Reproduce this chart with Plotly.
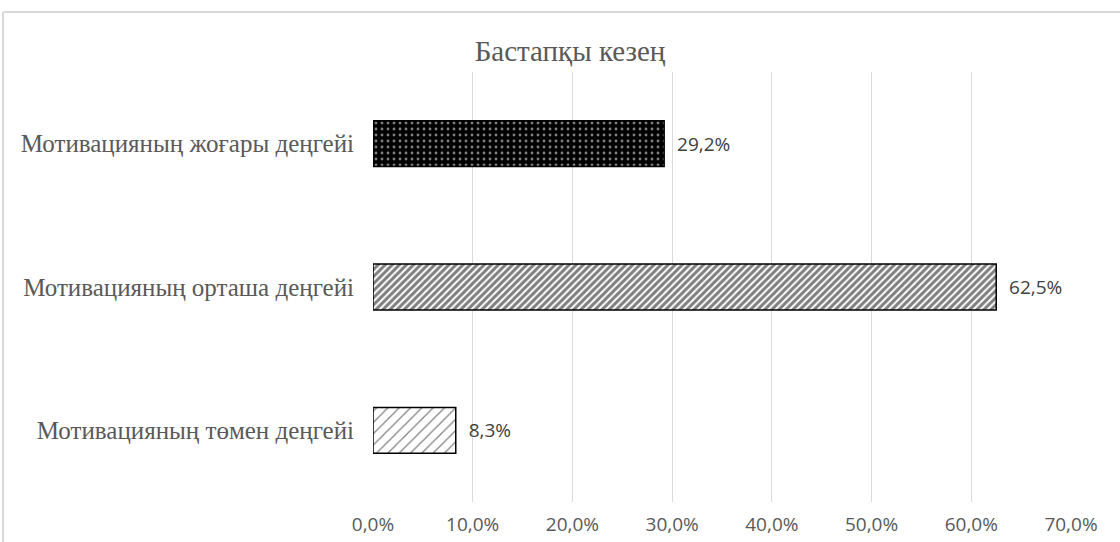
import plotly.graph_objects as go

categories = ["Мотивацияның жоғары деңгейі", "Мотивацияның орташа деңгейі", "Мотивацияның төмен деңгейі"]
values = [0.292, 0.625, 0.083]
title = "Бастапқы кезең"

shapes_pat = [".", "/", "/"]
bgcols = ["black", "white", "white"]
fgcols = ["white", "black", "black"]
sizes = [6, 5, 8]
solid = [0.18, 0.6, 0.15]

fig = go.Figure()
for i in range(3):
    fig.add_trace(go.Bar(
        y=[categories[i]], x=[values[i]], orientation="h",
        width=0.32,
        marker=dict(color=bgcols[i], line=dict(color="black", width=1.5),
                    pattern=dict(shape=shapes_pat[i], fgcolor=fgcols[i], bgcolor=bgcols[i],
                                 size=sizes[i], solidity=solid[i], fillmode="overlay")),
        texttemplate="\u00a0\u00a0%{x:.1%}", textposition="outside", cliponaxis=False,
        textfont=dict(family="Open Sans, Liberation Sans", size=19, color="#404040"),
        showlegend=False,
    ))

fig.update_layout(
    width=1120, height=542,
    margin=dict(l=373, r=49, t=72, b=40),
    paper_bgcolor="white", plot_bgcolor="white",
    separators=", ",
    title=dict(text=title, x=570 / 1120, xanchor="center", y=1 - 51 / 542, yanchor="middle",
               font=dict(family="Liberation Serif", size=29, color="#595959")),
    xaxis=dict(range=[0, 0.7], dtick=0.1, tickformat=".1%", showgrid=True, gridcolor="#d9d9d9",
               gridwidth=1, zeroline=False, showline=False, ticks="", automargin=False,
               tickfont=dict(family="Open Sans, Liberation Sans", size=19, color="#595959"),
               ticklabelstandoff=9),
    yaxis=dict(categoryorder="array", categoryarray=categories[::-1], showgrid=False,
               zeroline=False, showline=False, ticks="", ticklabelstandoff=18, automargin=False,
               tickfont=dict(family="Liberation Serif", size=25, color="#595959")),
    shapes=[
        dict(type="line", xref="paper", yref="paper", x0=(3 - 373) / 698, x1=(3 - 373) / 698,
             y0=1 + 60 / 430, y1=-0.2, line=dict(color="#d9d9d9", width=2)),
        dict(type="line", xref="paper", yref="paper", x0=(3 - 373) / 698, x1=1.2,
             y0=1 + 60 / 430, y1=1 + 60 / 430, line=dict(color="#d9d9d9", width=2)),
    ],
)
fig.write_html("out.html")
